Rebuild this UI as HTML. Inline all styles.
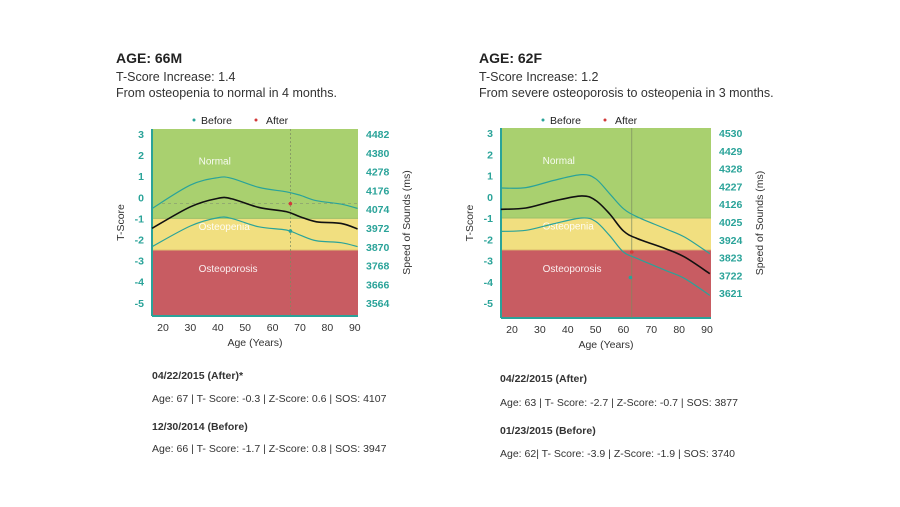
<!DOCTYPE html>
<html><head><meta charset="utf-8">
<style>
body{margin:0;background:#fff;width:900px;height:507px;overflow:hidden;font-family:"Liberation Sans","DejaVu Sans",sans-serif;}
svg{position:absolute;left:0;top:0}
</style></head>
<body>
<svg id="s" width="900" height="507" viewBox="0 0 900 507">
<g fill="#222">
<text x="116" y="63" font-size="14" font-weight="bold">AGE: 66M</text>
<text x="116" y="81" font-size="12.5" fill="#333">T-Score Increase: 1.4</text>
<text x="116" y="97" font-size="12.5" fill="#333">From osteopenia to normal in 4 months.</text>
</g>
<g fill="#222">
<text x="479" y="63" font-size="14" font-weight="bold">AGE: 62F</text>
<text x="479" y="81" font-size="12.5" fill="#333">T-Score Increase: 1.2</text>
<text x="479" y="97" font-size="12.5" fill="#333">From severe osteoporosis to osteopenia in 3 months.</text>
</g>
<g font-size="10.5" fill="#333">
<text x="152" y="379" font-weight="bold">04/22/2015 (After)*</text>
<text x="152" y="402">Age: 67 | T- Score: -0.3 | Z-Score: 0.6 | SOS: 4107</text>
<text x="152" y="430" font-weight="bold">12/30/2014 (Before)</text>
<text x="152" y="452">Age: 66 | T- Score: -1.7 | Z-Score: 0.8 | SOS: 3947</text>
</g>
<g font-size="10.5" fill="#333">
<text x="500" y="382" font-weight="bold">04/22/2015 (After)</text>
<text x="500" y="406">Age: 63 | T- Score: -2.7 | Z-Score: -0.7 | SOS: 3877</text>
<text x="500" y="434" font-weight="bold">01/23/2015 (Before)</text>
<text x="500" y="457">Age: 62| T- Score: -3.9 | Z-Score: -1.9 | SOS: 3740</text>
</g>
</svg>
<script>
// Left chart data
const ages = [16, 30, 40, 45, 55, 65, 70, 76, 85, 91];
const leftUpper = [-0.53, 0.58, 0.93, 0.9, 0.47, 0.26, 0.1, -0.16, -0.32, -0.53];
const leftMid = [-1.47, -0.45, -0.05, -0.07, -0.48, -0.68, -0.92, -1.16, -1.24, -1.5];
const leftLower = [-2.34, -1.36, -0.97, -1.0, -1.4, -1.55, -1.79, -2.06, -2.15, -2.34];
const leftSOS = ["4482","4380","4278","4176","4074","3972","3870","3768","3666","3564"];
const leftAfter = [66.5, -0.3];
const leftBefore = [66.5, -1.6];
// Right chart data
const agesR = [16, 25, 35, 45, 50, 55, 60, 65, 75, 82, 91];
const rightUpper = [0.41, 0.43, 0.77, 1.04, 0.85, 0.15, -0.56, -0.95, -1.5, -1.9, -2.68];
const rightMid = [-0.59, -0.53, -0.2, 0.04, -0.17, -0.8, -1.61, -1.97, -2.44, -2.84, -3.62];
const rightLower = [-1.63, -1.58, -1.27, -1.0, -1.16, -1.82, -2.6, -2.91, -3.46, -3.85, -4.64];
const rightSOS = ["4530","4429","4328","4227","4126","4025","3924","3823","3722","3621"];
const rightAfter = [63, -2.6];
const rightBefore = [62.5, -3.8];
const tTicks = [3, 2, 1, 0, -1, -2, -3, -4, -5];
const xTicks = [20, 30, 40, 50, 60, 70, 80, 90];

const NS = "http://www.w3.org/2000/svg";
const svg = document.getElementById('s');
function mk(tag, attrs, parent, txt){const e=document.createElementNS(NS,tag);for(const k in attrs)e.setAttribute(k,attrs[k]);if(txt!==undefined)e.textContent=txt;parent.appendChild(e);return e;}
function smooth(pts){let d="M"+pts[0][0]+","+pts[0][1];for(let i=0;i<pts.length-1;i++){const p0=pts[Math.max(0,i-1)],p1=pts[i],p2=pts[i+1],p3=pts[Math.min(pts.length-1,i+2)];const c1=[p1[0]+(p2[0]-p0[0])/6,p1[1]+(p2[1]-p0[1])/6];const c2=[p2[0]-(p3[0]-p1[0])/6,p2[1]-(p3[1]-p1[1])/6];d+=" C"+c1[0]+","+c1[1]+" "+c2[0]+","+c2[1]+" "+p2[0]+","+p2[1];}return d;}

function chart(cfg){
  const g=mk('g',{},svg);
  
  
  const X=a=>cfg.x20+(a-20)*cfg.kx;
  const Y=t=>cfg.y3+(3-t)*cfg.ky;
  const L=cfg.left,R=cfg.right,T=cfg.top,B=cfg.bottom;
  const zn=mk('rect',{x:L,y:T,width:R-L,height:Y(-1)-T,fill:'#a9d06f'},g);
  
  const zo=mk('rect',{x:L,y:Y(-1),width:R-L,height:Y(-2.5)-Y(-1),fill:'#f1df80'},g);
  
  const zp=mk('rect',{x:L,y:Y(-2.5),width:R-L,height:B-Y(-2.5),fill:'#c85c62'},g);
  
  mk('line',{x1:L,y1:Y(-1),x2:R,y2:Y(-1),stroke:'#9bbf6a','stroke-width':1},g);
  mk('line',{x1:L,y1:Y(-2.5),x2:R,y2:Y(-2.5),stroke:'#e0c070','stroke-width':1},g);
  const lbl=(t,x,y,n)=>{const e=mk('text',{x:x,y:y,'font-size':10,fill:'#fff','fill-opacity':0.9},g,t);};
  lbl('Normal',X(cfg.lblAge),Y(1.55),'normal-label');
  lbl('Osteopenia',X(cfg.lblAge),Y(-1.55),'osteopenia-label');
  lbl('Osteoporosis',X(cfg.lblAge),Y(-3.55),'osteoporosis-label');
  mk('line',{x1:L,y1:T,x2:L,y2:B,stroke:'#2aa399','stroke-width':2},g);
  mk('line',{x1:L,y1:B,x2:R,y2:B,stroke:'#2aa399','stroke-width':2},g);
  const vx=X(cfg.after[0]);
  mk('line',{x1:vx,y1:T,x2:vx,y2:B,stroke:'#7a8a60','stroke-width':0.7,'stroke-dasharray':cfg.dash?'2,2':'none'},g);
  if(cfg.hline) mk('line',{x1:L+10,y1:Y(cfg.after[1]),x2:R,y2:Y(cfg.after[1]),stroke:'#8aa070','stroke-width':0.7,'stroke-dasharray':'3,3'},g);
  const series=[[cfg.up,'#2aa399',1.2,'upper-band'],[cfg.lo,'#2aa399',1.2,'lower-band'],[cfg.mid,'#111',1.6,'mean-line']];
  series.forEach(s=>{const pts=cfg.ages.map((a,i)=>[X(a),Y(s[0][i])]);const p=mk('path',{d:smooth(pts),fill:'none',stroke:s[1],'stroke-width':s[2]},g);});
  const pa=mk('circle',{cx:X(cfg.after[0]),cy:Y(cfg.after[1]),r:1.8,fill:'#d23a3a'},g);
  
  const pb=mk('circle',{cx:X(cfg.before[0]),cy:Y(cfg.before[1]),r:1.8,fill:'#2aa399'},g);
  
  tTicks.forEach(t=>{const e=mk('text',{x:L-8,y:Y(t)+4,'font-size':10.5,'font-weight':'bold',fill:'#2aa399','text-anchor':'end'},g,String(t));});
  cfg.sos.forEach((s,i)=>{const e=mk('text',{x:R+8,y:cfg.sosTop+i*cfg.sosStep+4,'font-size':10.5,'font-weight':'bold',fill:'#2aa399'},g,s);});
  xTicks.forEach(a=>{const e=mk('text',{x:X(a),y:B+15,'font-size':10.5,fill:'#333','text-anchor':'middle'},g,String(a));});
  const xt=mk('text',{x:(L+R)/2,y:B+30,'font-size':10.5,fill:'#333','text-anchor':'middle'},g,'Age (Years)');
  
  const yl=mk('text',{x:0,y:0,'font-size':10.5,fill:'#333','text-anchor':'middle',transform:`translate(${L-28},${(T+B)/2}) rotate(-90)`},g,'T-Score');
  
  const yr=mk('text',{x:0,y:0,'font-size':10.5,fill:'#333','text-anchor':'middle',transform:`translate(${R+52},${(T+B)/2}) rotate(-90)`},g,'Speed of Sounds (ms)');
  
  const lg=mk('g',{},g);
  
  mk('circle',{cx:cfg.legX,cy:120,r:1.5,fill:'#2aa399'},lg);
  mk('text',{x:cfg.legX+7,y:124,'font-size':10.5,fill:'#222'},lg,'Before');
  mk('circle',{cx:cfg.legX+62,cy:120,r:1.5,fill:'#d23a3a'},lg);
  mk('text',{x:cfg.legX+72,y:124,'font-size':10.5,fill:'#222'},lg,'After');
}
chart({name:'left-chart',x20:163,kx:2.74,y3:134,ky:21.1,left:152,right:358,top:129,bottom:316,sosTop:134,sosStep:18.8,
  ages:ages,up:leftUpper,mid:leftMid,lo:leftLower,sos:leftSOS,after:leftAfter,before:leftBefore,lblAge:33,legX:194,hline:true,dash:true});
chart({name:'right-chart',x20:512,kx:2.786,y3:133,ky:21.25,left:501,right:711,top:128,bottom:318,sosTop:133,sosStep:17.8,
  ages:agesR,up:rightUpper,mid:rightMid,lo:rightLower,sos:rightSOS,after:rightAfter,before:rightBefore,lblAge:31,legX:543,hline:false,dash:false});
</script>
</body></html>
